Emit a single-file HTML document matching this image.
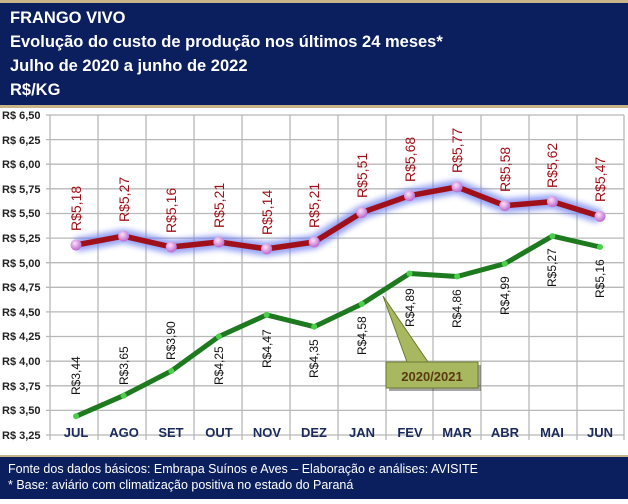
<!DOCTYPE html>
<html><head><meta charset="utf-8"><style>
body{margin:0;width:628px;height:499px;overflow:hidden;background:#fff;font-family:"Liberation Sans",sans-serif}
</style></head><body>
<svg width="628" height="499" xmlns="http://www.w3.org/2000/svg" font-family="Liberation Sans, sans-serif">
<defs><filter id="g" x="-50%" y="-50%" width="200%" height="200%"><feGaussianBlur stdDeviation="3"/></filter>
<radialGradient id="p" cx="40%" cy="35%" r="60%"><stop offset="0" stop-color="#fbe0fb"/><stop offset="1" stop-color="#c070d0"/></radialGradient></defs>
<rect x="0" y="0" width="628" height="108" fill="#c9b48a"/>
<rect x="0" y="3" width="628" height="102" fill="#0b1f5e"/>
<g fill="#fff" font-weight="bold" font-size="16.5">
<text x="10" y="23">FRANGO VIVO</text>
<text x="10" y="47">Evolução do custo de produção nos últimos 24 meses*</text>
<text x="10" y="71">Julho de 2020 a junho de 2022</text>
<text x="10" y="95">R$/KG</text></g>
<g stroke="#b8b8b8" stroke-width="1.3">
<line x1="46" y1="115" x2="624" y2="115"/><line x1="46" y1="139.6" x2="624" y2="139.6"/><line x1="46" y1="164.2" x2="624" y2="164.2"/><line x1="46" y1="188.8" x2="624" y2="188.8"/><line x1="46" y1="213.5" x2="624" y2="213.5"/><line x1="46" y1="238.1" x2="624" y2="238.1"/><line x1="46" y1="262.7" x2="624" y2="262.7"/><line x1="46" y1="287.3" x2="624" y2="287.3"/><line x1="46" y1="311.9" x2="624" y2="311.9"/><line x1="46" y1="336.5" x2="624" y2="336.5"/><line x1="46" y1="361.2" x2="624" y2="361.2"/><line x1="46" y1="385.8" x2="624" y2="385.8"/><line x1="46" y1="410.4" x2="624" y2="410.4"/><line x1="46" y1="435" x2="624" y2="435"/>
<line x1="50" y1="115" x2="50" y2="440"/><line x1="98" y1="115" x2="98" y2="440"/><line x1="146" y1="115" x2="146" y2="440"/><line x1="194" y1="115" x2="194" y2="440"/><line x1="242" y1="115" x2="242" y2="440"/><line x1="290" y1="115" x2="290" y2="440"/><line x1="338" y1="115" x2="338" y2="440"/><line x1="386" y1="115" x2="386" y2="440"/><line x1="433" y1="115" x2="433" y2="440"/><line x1="481" y1="115" x2="481" y2="440"/><line x1="529" y1="115" x2="529" y2="440"/><line x1="577" y1="115" x2="577" y2="440"/><line x1="624" y1="115" x2="624" y2="440"/>
</g>
<g font-size="11" font-weight="bold" fill="#222">
<text x="2" y="119">R$ 6,50</text><text x="2" y="144">R$ 6,25</text><text x="2" y="168">R$ 6,00</text><text x="2" y="193">R$ 5,75</text><text x="2" y="217">R$ 5,50</text><text x="2" y="242">R$ 5,25</text><text x="2" y="267">R$ 5,00</text><text x="2" y="291">R$ 4,75</text><text x="2" y="316">R$ 4,50</text><text x="2" y="340">R$ 4,25</text><text x="2" y="365">R$ 4,00</text><text x="2" y="390">R$ 3,75</text><text x="2" y="414">R$ 3,50</text><text x="2" y="439">R$ 3,25</text></g>
<g font-size="13" font-weight="bold" fill="#1a2a5a" text-anchor="middle">
<text x="76" y="437">JUL</text><text x="124" y="437">AGO</text><text x="171" y="437">SET</text><text x="219" y="437">OUT</text><text x="267" y="437">NOV</text><text x="314" y="437">DEZ</text><text x="362" y="437">JAN</text><text x="410" y="437">FEV</text><text x="457" y="437">MAR</text><text x="505" y="437">ABR</text><text x="552" y="437">MAI</text><text x="600" y="437">JUN</text></g>
<polyline points="76,416.3 123.6,395.6 171.3,371 218.9,336.5 266.6,314.9 314.2,326.7 361.8,304 409.5,273.5 457.1,276.5 504.8,263.7 552.4,236.1 600,247" fill="none" stroke="#1e7a1e" stroke-width="5" stroke-linejoin="round"/>
<g fill="#4cd04c"><circle cx="76" cy="416.3" r="3"/><circle cx="123.6" cy="395.6" r="3"/><circle cx="171.3" cy="371" r="3"/><circle cx="218.9" cy="336.5" r="3"/><circle cx="266.6" cy="314.9" r="3"/><circle cx="314.2" cy="326.7" r="3"/><circle cx="361.8" cy="304" r="3"/><circle cx="409.5" cy="273.5" r="3"/><circle cx="457.1" cy="276.5" r="3"/><circle cx="504.8" cy="263.7" r="3"/><circle cx="552.4" cy="236.1" r="3"/><circle cx="600" cy="247" r="3"/></g>
<polyline points="76,245 123.6,236.1 171.3,247 218.9,242 266.6,248.9 314.2,242 361.8,212.5 409.5,195.7 457.1,186.9 504.8,205.6 552.4,201.6 600,216.4" fill="none" stroke="#6a7cf0" stroke-width="14" stroke-linejoin="round" filter="url(#g)" opacity="0.7"/>
<polyline points="76,245 123.6,236.1 171.3,247 218.9,242 266.6,248.9 314.2,242 361.8,212.5 409.5,195.7 457.1,186.9 504.8,205.6 552.4,201.6 600,216.4" fill="none" stroke="#a0101a" stroke-width="5.5" stroke-linejoin="round"/>
<g fill="url(#p)"><circle cx="76" cy="245" r="5.5"/><circle cx="123.6" cy="236.1" r="5.5"/><circle cx="171.3" cy="247" r="5.5"/><circle cx="218.9" cy="242" r="5.5"/><circle cx="266.6" cy="248.9" r="5.5"/><circle cx="314.2" cy="242" r="5.5"/><circle cx="361.8" cy="212.5" r="5.5"/><circle cx="409.5" cy="195.7" r="5.5"/><circle cx="457.1" cy="186.9" r="5.5"/><circle cx="504.8" cy="205.6" r="5.5"/><circle cx="552.4" cy="201.6" r="5.5"/><circle cx="600" cy="216.4" r="5.5"/></g>
<g font-size="14" fill="#a01018">
<text transform="translate(81,231) rotate(-90)">R$5,18</text><text transform="translate(129,222) rotate(-90)">R$5,27</text><text transform="translate(176,233) rotate(-90)">R$5,16</text><text transform="translate(224,228) rotate(-90)">R$5,21</text><text transform="translate(272,235) rotate(-90)">R$5,14</text><text transform="translate(319,228) rotate(-90)">R$5,21</text><text transform="translate(367,198) rotate(-90)">R$5,51</text><text transform="translate(415,182) rotate(-90)">R$5,68</text><text transform="translate(462,173) rotate(-90)">R$5,77</text><text transform="translate(510,192) rotate(-90)">R$5,58</text><text transform="translate(557,188) rotate(-90)">R$5,62</text><text transform="translate(605,202) rotate(-90)">R$5,47</text></g>
<g font-size="12" fill="#111">
<text transform="translate(80,395) rotate(-90)">R$3,44</text><text transform="translate(128,385) rotate(-90)">R$3,65</text><text transform="translate(175,360) rotate(-90)">R$3,90</text><text transform="translate(223,385) rotate(-90)">R$4,25</text><text transform="translate(271,368) rotate(-90)">R$4,47</text><text transform="translate(318,378) rotate(-90)">R$4,35</text><text transform="translate(366,355) rotate(-90)">R$4,58</text><text transform="translate(414,327) rotate(-90)">R$4,89</text><text transform="translate(461,328) rotate(-90)">R$4,86</text><text transform="translate(509,315) rotate(-90)">R$4,99</text><text transform="translate(556,287) rotate(-90)">R$5,27</text><text transform="translate(604,298) rotate(-90)">R$5,16</text></g>
<g transform="translate(3,3)" opacity="0.35"><rect x="386" y="362" width="92" height="26" fill="#000"/></g>
<polygon points="383,296 407,362 428,362" fill="#a8b860" stroke="#6a7a30" stroke-width="1"/>
<rect x="386" y="362" width="92" height="26" fill="#a8b860" stroke="#6a7a30"/>
<text x="432" y="381" font-size="13" font-weight="bold" fill="#5a3a10" text-anchor="middle">2020/2021</text>
<rect x="0" y="455" width="628" height="2" fill="#c9b48a"/>
<rect x="0" y="457" width="628" height="42" fill="#0b1f5e"/>
<g fill="#fff" font-size="12.5"><text x="8" y="473">Fonte dos dados básicos: Embrapa Suínos e Aves – Elaboração e análises: AVISITE</text><text x="8" y="489">* Base: aviário com climatização positiva no estado do Paraná</text></g>
</svg>
</body></html>
